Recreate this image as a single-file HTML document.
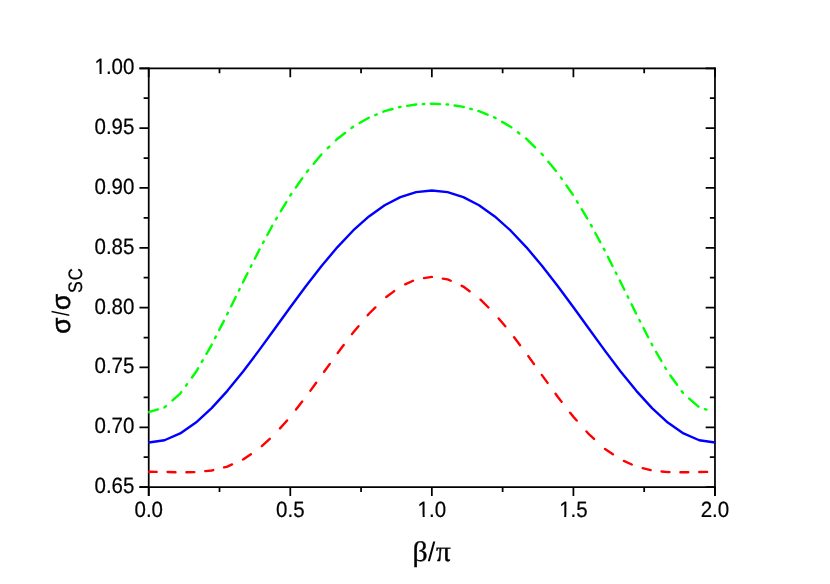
<!DOCTYPE html>
<html><head><meta charset="utf-8"><title>chart</title>
<style>html,body{margin:0;padding:0;background:#fff;}svg{display:block;}text{font-family:"Liberation Sans",sans-serif;fill:#000;text-rendering:geometricPrecision;}.ser{font-family:"Liberation Serif",serif;}</style></head><body>
<svg width="830" height="584" viewBox="0 0 830 584">
<rect width="830" height="584" fill="#fff"/>
<g stroke="#000" stroke-width="1.75" fill="none" stroke-linecap="butt">
<path d="M148.73 67.39 V496.10"/>
<path d="M714.97 67.39 V496.10"/>
<path d="M139.43 68.27 H715.85"/>
<path d="M139.43 487.10 H715.85"/>
<path d="M148.73 487.10 H139.43 M714.97 487.10 H705.67 M148.73 457.18 H143.63 M714.97 457.18 H709.87 M148.73 427.27 H139.43 M714.97 427.27 H705.67 M148.73 397.35 H143.63 M714.97 397.35 H709.87 M148.73 367.43 H139.43 M714.97 367.43 H705.67 M148.73 337.52 H143.63 M714.97 337.52 H709.87 M148.73 307.60 H139.43 M714.97 307.60 H705.67 M148.73 277.68 H143.63 M714.97 277.68 H709.87 M148.73 247.77 H139.43 M714.97 247.77 H705.67 M148.73 217.85 H143.63 M714.97 217.85 H709.87 M148.73 187.94 H139.43 M714.97 187.94 H705.67 M148.73 158.02 H143.63 M714.97 158.02 H709.87 M148.73 128.10 H139.43 M714.97 128.10 H705.67 M148.73 98.19 H143.63 M714.97 98.19 H709.87 M148.73 68.27 H139.43 M714.97 68.27 H705.67 M148.73 487.10 V496.10 M148.73 68.27 V77.27 M219.51 487.10 V492.10 M219.51 68.27 V73.27 M290.29 487.10 V496.10 M290.29 68.27 V77.27 M361.07 487.10 V492.10 M361.07 68.27 V73.27 M431.85 487.10 V496.10 M431.85 68.27 V77.27 M502.63 487.10 V492.10 M502.63 68.27 V73.27 M573.41 487.10 V496.10 M573.41 68.27 V77.27 M644.19 487.10 V492.10 M644.19 68.27 V73.27 M714.97 487.10 V496.10 M714.97 68.27 V77.27"/>
</g>
<defs><clipPath id="pc"><rect x="148.13" y="68.27" width="567.44" height="418.83"/></clipPath></defs>
<g fill="none" stroke-linejoin="round" stroke-linecap="round" clip-path="url(#pc)">
<path d="M148.73 412.22 L157.93 409.43 M164.43 407.45 L164.46 407.45 L165.93 406.15 M172.49 400.38 L180.19 393.61 L181.28 392.11 M186.03 385.61 L187.12 384.11 M191.91 377.55 L195.92 372.06 L198.06 368.35 M201.80 361.85 L202.67 360.35 M206.45 353.79 L211.65 344.78 L211.74 344.59 M215.07 338.09 L215.83 336.59 M219.19 330.03 L223.90 320.83 M227.22 314.33 L227.37 314.03 L227.97 312.83 M231.19 306.27 L235.72 297.07 M238.92 290.57 L239.65 289.07 M242.88 282.51 L243.10 282.05 L247.50 273.31 M250.77 266.81 L251.52 265.31 M254.82 258.75 L258.83 250.76 L259.48 249.55 M262.99 243.05 L263.80 241.55 M267.34 234.99 L272.30 225.79 M275.95 219.29 L276.85 217.79 M280.80 211.23 L286.34 202.03 M290.26 195.53 L290.29 195.47 L291.30 194.03 M295.87 187.47 L302.28 178.27 M306.97 171.77 L308.21 170.27 M313.68 163.71 L321.33 154.51 M327.75 148.16 L329.25 146.70 M335.81 140.31 L337.48 138.69 L345.01 132.93 M351.51 127.97 L353.01 126.82 M359.57 123.01 L368.77 117.72 M375.27 115.02 L376.77 114.40 M383.33 111.70 L384.66 111.16 L392.53 109.02 M399.03 107.25 L400.39 106.88 L400.53 106.86 M407.09 105.85 L416.12 104.47 L416.29 104.46 M422.79 104.14 L424.29 104.06 M430.85 103.74 L431.85 103.69 L440.05 104.09 M446.55 104.41 L447.58 104.47 L448.05 104.54 M454.61 105.55 L463.31 106.88 L463.81 107.02 M470.31 108.78 L471.81 109.19 M478.37 110.98 L479.04 111.16 L487.57 114.67 M494.07 117.34 L494.77 117.63 L495.57 118.09 M502.13 121.86 L510.49 126.67 L511.33 127.31 M517.83 132.28 L519.33 133.42 M525.89 138.43 L526.22 138.69 L535.09 147.33 M541.59 153.66 L541.95 154.01 L542.90 155.15 M548.36 161.71 L556.02 170.91 M560.82 177.41 L561.87 178.91 M566.44 185.47 L572.85 194.67 M576.84 201.17 L577.74 202.67 M581.70 209.23 L587.24 218.43 M590.94 224.93 L591.75 226.43 M595.29 232.99 L600.25 242.19 M603.75 248.69 L604.56 250.19 M607.88 256.75 L612.50 265.95 M615.77 272.45 L616.52 273.95 M619.82 280.51 L620.60 282.05 L624.36 289.71 M627.56 296.21 L628.30 297.71 M631.53 304.27 L636.05 313.47 M639.36 319.97 L640.13 321.47 M643.49 328.03 L648.19 337.23 M651.52 343.73 L652.05 344.78 L652.32 345.23 M656.10 351.79 L661.40 360.99 M665.15 367.49 L666.01 368.99 M670.33 375.55 L677.05 384.75 M681.79 391.25 L682.89 392.75 M689.21 398.62 L698.41 406.72 M704.91 409.17 L706.41 409.62" stroke="#00ff00" stroke-width="2.4"/>
<polyline points="148.73,442.56 164.46,440.24 180.19,433.44 195.92,422.54 211.65,408.12 227.37,390.85 243.10,371.47 258.83,350.65 274.56,329.06 290.29,307.32 306.02,286.02 321.75,265.75 337.48,247.07 353.21,230.48 368.93,216.42 384.66,205.21 400.39,197.09 416.12,192.18 431.85,190.53 447.58,192.18 463.31,197.09 479.04,205.21 494.77,216.42 510.49,230.48 526.22,247.07 541.95,265.75 557.68,286.02 573.41,307.32 589.14,329.06 604.87,350.65 620.60,371.47 636.33,390.85 652.05,408.12 667.78,422.54 683.51,433.44 699.24,440.24 714.97,442.56" stroke="#0000ff" stroke-width="2.4"/>
<path d="M148.73 471.82 L156.63 471.90 M167.58 472.05 L175.48 472.20 M186.43 472.20 L194.33 472.09 M205.28 471.12 L211.65 470.48 L213.18 470.09 M224.13 467.36 L227.37 466.55 L232.03 464.46 M242.98 459.55 L243.10 459.49 L250.88 454.21 M261.83 446.09 L269.73 438.88 M280.02 428.36 L287.07 420.46 M296.02 409.51 L302.19 401.61 M310.42 390.66 L316.18 382.76 M324.13 371.81 L329.82 363.91 M337.73 352.96 L343.69 345.06 M351.96 334.11 L353.21 332.46 L358.47 326.21 M367.68 315.26 L368.93 313.77 L375.35 307.42 M386.30 296.99 L394.20 291.13 M405.15 284.36 L413.05 280.73 M424.00 278.10 L431.85 276.88 L431.90 276.88 M442.85 278.59 L447.58 279.32 L450.75 280.78 M461.70 285.80 L463.31 286.54 L469.60 291.21 M480.55 299.70 L488.45 307.52 M498.67 318.41 L505.32 326.31 M514.12 337.26 L520.08 345.16 M528.25 356.11 L533.95 364.01 M541.84 374.96 L541.95 375.11 L547.59 382.86 M555.57 393.81 L557.68 396.70 L561.59 401.71 M570.14 412.66 L573.41 416.85 L576.72 420.56 M586.49 431.51 L589.14 434.48 L594.07 438.97 M605.02 448.92 L612.92 454.28 M623.87 460.96 L631.77 464.50 M642.72 468.14 L650.62 470.12 M661.57 471.44 L667.78 472.07 L669.47 472.09 M680.42 472.24 L683.51 472.28 L688.32 472.19 M699.27 471.99 L707.17 471.90" stroke="#ff0000" stroke-width="2.4"/>
</g>
<g opacity="0.999">
<g font-size="20.5" stroke="#000" stroke-width="0.2">
<text transform="translate(134.4,493.15) scale(1,1.075)" text-anchor="end">0.65</text>
<text transform="translate(134.4,433.32) scale(1,1.075)" text-anchor="end">0.70</text>
<text transform="translate(134.4,373.48) scale(1,1.075)" text-anchor="end">0.75</text>
<text transform="translate(134.4,313.65) scale(1,1.075)" text-anchor="end">0.80</text>
<text transform="translate(134.4,253.82) scale(1,1.075)" text-anchor="end">0.85</text>
<text transform="translate(134.4,193.99) scale(1,1.075)" text-anchor="end">0.90</text>
<text transform="translate(134.4,134.15) scale(1,1.075)" text-anchor="end">0.95</text>
<text transform="translate(134.4,74.32) scale(1,1.075)" text-anchor="end">1.00</text>
<text transform="translate(148.73,517.25) scale(1,1.075)" text-anchor="middle">0.0</text>
<text transform="translate(290.29,517.25) scale(1,1.075)" text-anchor="middle">0.5</text>
<text transform="translate(431.85,517.25) scale(1,1.075)" text-anchor="middle">1.0</text>
<text transform="translate(573.41,517.25) scale(1,1.075)" text-anchor="middle">1.5</text>
<text transform="translate(714.97,517.25) scale(1,1.075)" text-anchor="middle">2.0</text>
</g>
<rect x="94.96" y="71.87" width="4.57" height="2.85" fill="#fff"/><rect x="101.59" y="71.87" width="3.93" height="2.85" fill="#fff"/>
<rect x="418.06" y="514.80" width="4.57" height="2.85" fill="#fff"/><rect x="424.69" y="514.80" width="3.93" height="2.85" fill="#fff"/>
<rect x="559.62" y="514.80" width="4.57" height="2.85" fill="#fff"/><rect x="566.25" y="514.80" width="3.93" height="2.85" fill="#fff"/>
<text class="ser" transform="translate(412.45,560.7) scale(1.05,0.99)" font-size="28.4" stroke="#000" stroke-width="0.35">β</text>
<text transform="translate(427.7,560.6)" font-size="27.1">/</text>
<text class="ser" transform="translate(436.1,560.65) scale(0.985,0.985)" font-size="29.5" stroke="#000" stroke-width="0.4">π</text>
<g stroke="#000" stroke-width="0.5">
<text transform="translate(70.28,333.65) rotate(-90) scale(0.99,1.0)" font-size="26.5">σ</text>
<text transform="translate(70.28,309.9) rotate(-90) scale(0.99,1.0)" font-size="26.5">σ</text>
</g>
<text transform="translate(69.3,316.05) rotate(-90) scale(0.72,0.91)" font-size="26.5">/</text>
<text transform="translate(81.8,293.04) rotate(-90) scale(0.975,1.083)" font-size="18" stroke="#000" stroke-width="0.25">S</text>
<text transform="translate(81.8,280.3) rotate(-90) scale(0.93,1.083)" font-size="18" stroke="#000" stroke-width="0.25">C</text>
</g>
</svg></body></html>
